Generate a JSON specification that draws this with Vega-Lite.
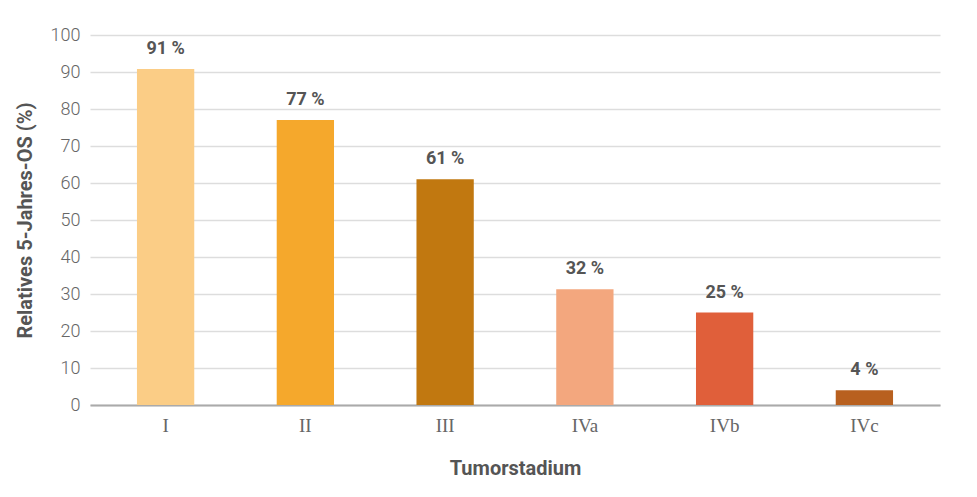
{
  "$schema": "https://vega.github.io/schema/vega-lite/v6.json",
  "autosize": "none",
  "width": 850,
  "height": 370,
  "padding": {"left": 90, "top": 35, "right": 37, "bottom": 92},
  "background": "white",
  "config": {"view": {"stroke": null}},
  "data": {"values": [
    {"stage": "I", "value": 90.8, "label": "91 %", "color": "#FBCD86"},
    {"stage": "II", "value": 77, "label": "77 %", "color": "#F5A82C"},
    {"stage": "III", "value": 61, "label": "61 %", "color": "#C17810"},
    {"stage": "IVa", "value": 31.3, "label": "32 %", "color": "#F3A77E"},
    {"stage": "IVb", "value": 25, "label": "25 %", "color": "#E05F3A"},
    {"stage": "IVc", "value": 4, "label": "4 %", "color": "#B8601F"}
  ]},
  "encoding": {
    "x": {"field": "stage", "type": "nominal", "sort": null,
      "scale": {"paddingInner": 0.59, "paddingOuter": 0.336},
      "axis": {"title": "Tumorstadium", "labelAngle": 0, "ticks": false,
        "domainColor": "#aaaaaa", "domainWidth": 2,
        "labelFont": "Liberation Serif", "labelFontSize": 19, "labelColor": "#666666", "labelPadding": 11,
        "titleFont": "Roboto", "titleFontSize": 20, "titleFontWeight": "bold", "titleColor": "#555555", "titlePadding": 23}},
    "y": {"field": "value", "type": "quantitative",
      "scale": {"domain": [0, 100]},
      "axis": {"title": "Relatives 5-Jahres-OS (%)", "values": [0,10,20,30,40,50,60,70,80,90,100], "labelOverlap": false,
        "domain": false, "ticks": false, "gridColor": "#dddddd", "gridWidth": 1.3,
        "labelFont": "Roboto", "labelFontSize": 18, "labelFontWeight": 300, "labelColor": "#666666", "labelPadding": 10,
        "titleFont": "Roboto", "titleFontSize": 20, "titleFontWeight": "bold", "titleColor": "#555555", "titlePadding": 15}}
  },
  "layer": [
    {"mark": {"type": "bar"},
     "encoding": {"color": {"field": "color", "type": "nominal", "scale": null}}},
    {"mark": {"type": "text", "dy": -11, "baseline": "bottom", "font": "Roboto", "fontSize": 18, "fontWeight": "bold", "fill": "#555555"},
     "encoding": {"text": {"field": "label"}}}
  ]
}
